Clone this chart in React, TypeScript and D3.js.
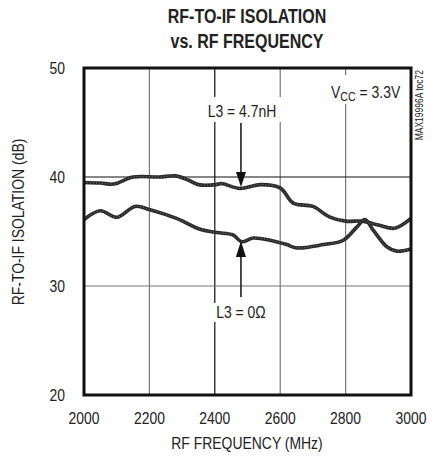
import React from 'react';
import * as d3 from 'd3';

// L3 = 4.7nH trace (MHz, dB)
const freqA = [2000, 2050, 2090, 2150, 2230, 2280, 2320, 2350, 2404, 2420, 2477, 2540, 2600, 2640, 2700, 2750, 2800, 2850, 2900, 2950, 3000];
const isoA = [39.5, 39.45, 39.35, 40.0, 40.0, 40.1, 39.7, 39.3, 39.3, 39.4, 38.95, 39.3, 39.0, 37.6, 37.3, 36.35, 35.95, 35.95, 35.6, 35.3, 36.2];

// L3 = 0 ohm trace
const freqB = [2000, 2050, 2100, 2156, 2202, 2283, 2355, 2406, 2455, 2482, 2517, 2569, 2620, 2650, 2732, 2793, 2834, 2859, 2885, 2926, 2956, 3000];
const isoB = [36.1, 36.9, 36.3, 37.3, 37.0, 36.2, 35.2, 34.9, 34.7, 34.06, 34.4, 34.2, 33.8, 33.5, 33.8, 34.2, 35.4, 36.1, 35.1, 33.6, 33.2, 33.4];

const xTicks = [2000, 2200, 2400, 2600, 2800, 3000];
const yTicks = [20, 30, 40, 50];
const darkX = [2400];
const darkY = [40];

const W = 443;
const H = 456;
const SANS = '"Liberation Sans", Arial, sans-serif';
const SQ = 0.82; // horizontal squeeze, the original uses a narrow face

type TProps = { x: number; y: number; anchor?: string; size?: number; rot?: number; sx?: number; weight?: string; children: React.ReactNode };

// narrow text: Arial metrics squeezed sideways
const NT = ({ x, y, anchor = 'start', size = 17, rot = 0, sx = SQ, weight = 'normal', children }: TProps) => (
  <text transform={`translate(${x},${y}) rotate(${rot}) scale(${sx},1)`} textAnchor={anchor}
    fontFamily={SANS} fontSize={size} fontWeight={weight} fill="#222">{children}</text>
);

const App: React.FC = () => {
  const x = d3.scaleLinear().domain([2000, 3000]).range([84, 411]);
  const y = d3.scaleLinear().domain([20, 50]).range([395, 68]);

  const line = d3.line<[number, number]>()
    .x(d => x(d[0]))
    .y(d => y(d[1]))
    .curve(d3.curveCatmullRom.alpha(0.5));

  const ptsA = freqA.map((f, i) => [f, isoA[i]] as [number, number]);
  const ptsB = freqB.map((f, i) => [f, isoB[i]] as [number, number]);

  const ax = x(2480);

  return (
    <svg width={W} height={H} style={{ position: 'absolute', left: 0, top: 0, background: '#fff' }}>
      {/* title */}
      <NT x={247} y={23} anchor="middle" size={20} sx={0.8} weight="bold">RF-TO-IF ISOLATION</NT>
      <NT x={247} y={48} anchor="middle" size={20} sx={0.8} weight="bold">vs. RF FREQUENCY</NT>

      {/* grid */}
      {xTicks.slice(1, -1).map(t => (
        <line key={'gx' + t} x1={x(t)} x2={x(t)} y1={y(50)} y2={y(20)}
          stroke={darkX.includes(t) ? '#111' : '#777'} strokeWidth={1.2} />
      ))}
      {yTicks.slice(1, -1).map(t => (
        <line key={'gy' + t} x1={x(2000)} x2={x(3000)} y1={y(t)} y2={y(t)}
          stroke={darkY.includes(t) ? '#111' : '#777'} strokeWidth={1.2} />
      ))}

      {/* label boxes that mask grid */}
      <rect x={206} y={97} width={80} height={25} fill="#fff" />
      <rect x={210} y={303} width={62} height={19} fill="#fff" />
      <rect x={328} y={75} width={78} height={29} fill="#fff" />

      {/* traces */}
      {[ptsA, ptsB].map((p, i) => (
        <g key={'tr' + i}>
          <path d={line(p) || ''} fill="none" stroke="#2a2a2a" strokeWidth={3.6} strokeLinejoin="round" />
          <path d={line(p) || ''} fill="none" stroke="#777" strokeWidth={1} strokeDasharray="1 2" />
        </g>
      ))}

      {/* frame */}
      <rect x={x(2000)} y={y(50)} width={x(3000) - x(2000)} height={y(20) - y(50)}
        fill="none" stroke="#111" strokeWidth={3} />

      {/* annotations */}
      <NT x={242} y={117} anchor="middle">L3 = 4.7nH</NT>
      <NT x={241} y={318} anchor="middle">L3 = 0Ω</NT>
      <NT x={331} y={98}>V<tspan fontSize={13} dy={3}>CC</tspan><tspan dy={-3}> = 3.3V</tspan></NT>
      <line x1={ax} x2={ax} y1={123} y2={176} stroke="#111" strokeWidth={1.5} />
      <path d={`M${ax - 5},172 L${ax + 5},172 L${ax},187 Z`} fill="#111" />
      <line x1={ax} x2={ax} y1={253} y2={297} stroke="#111" strokeWidth={1.5} />
      <path d={`M${ax - 5},257 L${ax + 5},257 L${ax},241 Z`} fill="#111" />

      <NT x={423} y={70} anchor="end" rot={-90} size={10} sx={0.85}>MAX19996A toc72</NT>

      {/* axes labels */}
      {xTicks.map(t => (
        <NT key={'xt' + t} x={x(t)} y={424} anchor="middle">{t}</NT>
      ))}
      {yTicks.map(t => (
        <NT key={'yt' + t} x={65} y={y(t) + 6} anchor="end">{t}</NT>
      ))}
      <NT x={247} y={449} anchor="middle">RF FREQUENCY (MHz)</NT>
      <NT x={24} y={222} anchor="middle" rot={-90}>RF-TO-IF ISOLATION (dB)</NT>
    </svg>
  );
};

export default App;
